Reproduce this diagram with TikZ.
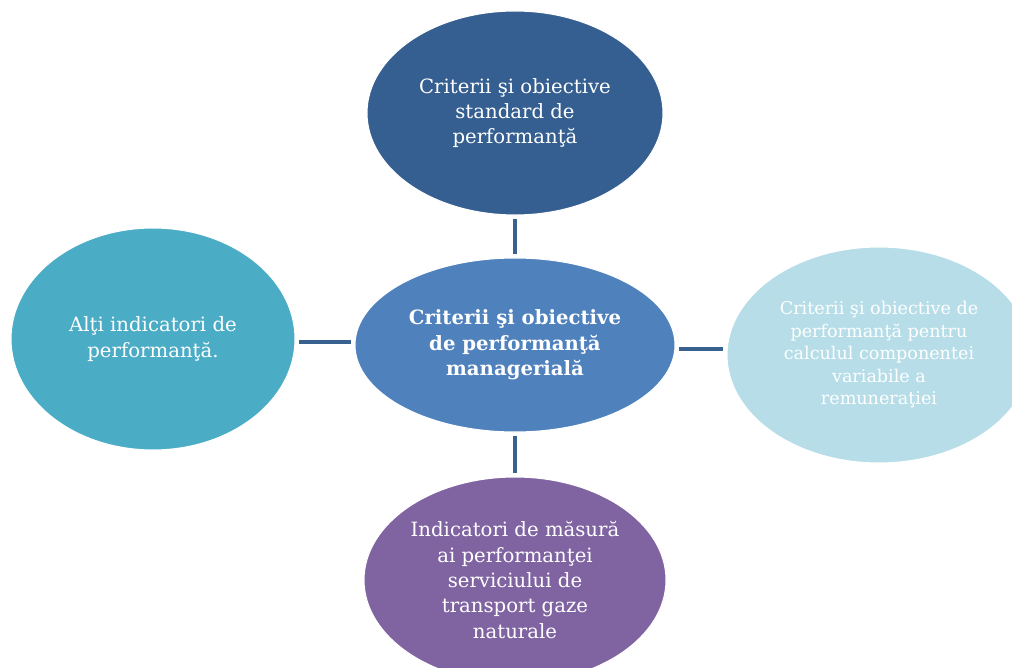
\documentclass[tikz,border=0pt]{standalone}
\usepackage{fontspec}
\setmainfont{DejaVu Serif}
\usepackage{tikz}
\usetikzlibrary{shapes.geometric}

\definecolor{darkblue}{HTML}{365F91}
\definecolor{midblue}{HTML}{4F81BD}
\definecolor{aqua}{HTML}{4BACC6}
\definecolor{paleaqua}{HTML}{B6DDE8}
\definecolor{violet}{HTML}{8064A2}
\definecolor{linkblue}{HTML}{38618F}

\begin{document}
\begin{tikzpicture}[x=0.025cm,y=-0.025cm]
            \tikzstyle{oval}=[ellipse,draw=white,line width=0.8pt,inner sep=0,text=white,align=center,font=\fontsize{14}{18}\selectfont];
            \tikzstyle{link}=[linkblue,line width=2.8pt,shorten >=2.5pt,shorten <=2.5pt];
            \clip (0,0) rectangle (1012,668);
            \fill[white] (0,0) rectangle (1012,668);
            \node[oval,fill=darkblue,minimum width=7.4cm,minimum height=5.1cm] (standard) at (515,113) {Criterii şi obiective\\standard de\\performanţă};
            \node[oval,fill=midblue,minimum width=8.0cm,minimum height=4.35cm,font=\fontsize{14}{18}\selectfont\bfseries] (centre) at (515,345) {Criterii şi obiective\\de performanţă\\managerială};
            \node[oval,fill=aqua,minimum width=7.1cm,minimum height=5.55cm] (altii) at (153,339) {Alţi indicatori de\\performanţă.};
            \node[oval,fill=paleaqua,minimum width=7.6cm,minimum height=5.4cm,font=\fontsize{12.5}{16}\selectfont] (remun) at (879,355) {Criterii şi obiective de\\performanţă pentru\\calculul componentei\\variabile a\\remuneraţiei};
            \node[oval,fill=violet,minimum width=7.55cm,minimum height=5.15cm] (masura) at (515,580) {Indicatori de măsură\\ai performanţei\\serviciului de\\transport gaze\\naturale};
            \draw[link] (standard.south) -- (centre.north);
            \draw[link] ([yshift=-2pt]altii.east) -- ([yshift=-2pt]altii.east -| centre.west);
            \draw[link] ([yshift=-3pt]centre.east) -- ([yshift=-3pt]centre.east -| remun.west);
            \draw[link] (centre.south) -- (masura.north);
\end{tikzpicture}
\end{document}
